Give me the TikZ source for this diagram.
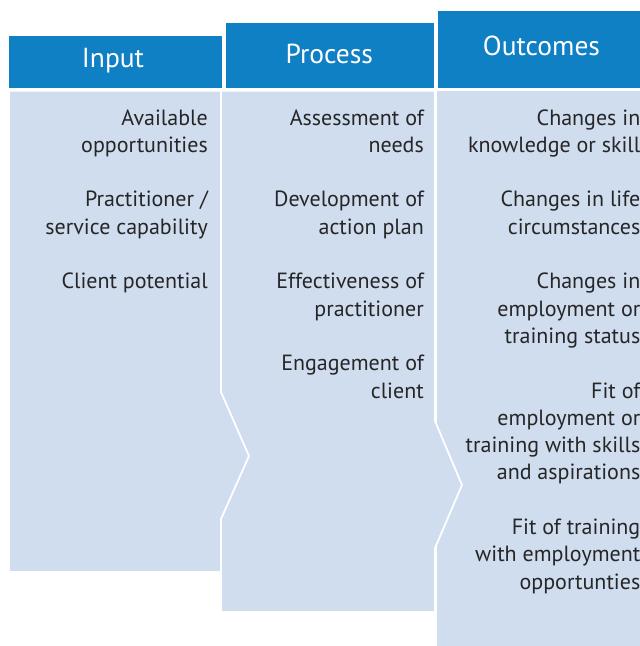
\documentclass[tikz,border=0pt]{standalone}
\usepackage{fontspec}
\setmainfont{PT Sans}
\definecolor{hdr}{RGB}{16,128,196}
\definecolor{bodyc}{RGB}{207,221,239}
\definecolor{txt}{RGB}{38,38,38}
\tikzset{
  hdrbox/.style={fill=hdr, draw=none},
  colbody/.style={fill=bodyc, draw=white, line width=1.8pt, line join=miter},
  hdrtext/.style={text=white, font=\fontsize{27.5}{31}\selectfont, anchor=base, inner sep=0pt},
  itemtext/.style={text=txt, font=\fontsize{22}{27}\selectfont, anchor=base east, inner sep=0pt},
}
\begin{document}
\begin{tikzpicture}[x=1pt,y=-1pt]
\clip (0,0) rectangle (640,646);
\fill[white] (0,0) rectangle (640,646);
% headers
\fill[hdrbox] (9,36) rectangle (222,88);
\fill[hdrbox] (226,23) rectangle (434,88);
\fill[hdrbox] (438,11) rectangle (650,88);
% bodies
\fill[bodyc] (437,90.7) rectangle (650,650);
\draw[colbody] (221,90.7) -- (435,90.7) -- (435,421) -- (462,485) -- (435,548) -- (435,612) -- (221,612) -- cycle;
\draw[colbody] (9,90.7) -- (221,90.7) -- (221,392) -- (249,456) -- (221,519) -- (221,572) -- (9,572) -- cycle;
% header texts
\node[hdrtext] (hin) at (113,67) {Input};
\node[hdrtext] (hpr) at (329.3,63.5) {Process};
\node[hdrtext] (hout) at (541.5,55.5) {Outcomes};
% input items
\node[itemtext] (i1) at (208,125) {Available};
\node[itemtext] (i2) at (208,152.3) {opportunities};
\node[itemtext] (i3) at (208,206.9) {Practitioner /};
\node[itemtext] (i4) at (208,234.2) {service capability};
\node[itemtext] (i5) at (208,288.8) {Client potential};
% process items
\node[itemtext] (p1) at (424,125) {Assessment of};
\node[itemtext] (p2) at (424,152.3) {needs};
\node[itemtext] (p3) at (424,206.9) {Development of};
\node[itemtext] (p4) at (424,234.2) {action plan};
\node[itemtext] (p5) at (424,288.8) {Effectiveness of};
\node[itemtext] (p6) at (424,316.1) {practitioner};
\node[itemtext] (p7) at (424,370.7) {Engagement of};
\node[itemtext] (p8) at (424,398) {client};
% outcome items
\node[itemtext] (o1) at (640.5,125) {Changes in};
\node[itemtext] (o2) at (640.5,152.3) {knowledge or skill};
\node[itemtext] (o3) at (640.5,206.9) {Changes in life};
\node[itemtext] (o4) at (640.5,234.2) {circumstances};
\node[itemtext] (o5) at (640.5,288.8) {Changes in};
\node[itemtext] (o6) at (640.5,316.1) {employment or};
\node[itemtext] (o7) at (640.5,343.4) {training status};
\node[itemtext] (o8) at (640.5,398) {Fit of};
\node[itemtext] (o9) at (640.5,425.3) {employment or};
\node[itemtext] (o10) at (640.5,452.6) {training with skills};
\node[itemtext] (o11) at (640.5,479.9) {and aspirations};
\node[itemtext] (o12) at (640.5,534.5) {Fit of training};
\node[itemtext] (o13) at (640.5,561.8) {with employment};
\node[itemtext] (o14) at (640.5,589.1) {opportunties};
\end{tikzpicture}
\end{document}
